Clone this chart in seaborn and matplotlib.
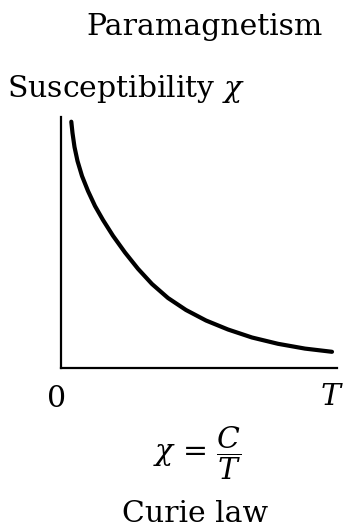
import matplotlib
matplotlib.use("Agg")
import matplotlib.pyplot as plt
import seaborn as sns
import pandas as pd

# curve (T and chi in arbitrary units)
temperature = [10.3, 11.5, 13.5, 16.5, 21, 27, 34, 42, 52, 64,
               77, 91, 107, 125, 145, 167, 191, 217, 244, 271]
susceptibility = [246.3, 235, 221, 207, 192, 177, 162, 148, 132.2, 115.5,
                  99.2, 84, 70, 58, 47.5, 38.5, 30.5, 24.2, 19.4, 16.2]

x_max = 276
y_max = 251

sns.set_theme(style="white")
plt.rcParams["font.family"] = ["DejaVu Serif"]
plt.rcParams["mathtext.fontset"] = "dejavuserif"
plt.rcParams["text.color"] = "black"

df = pd.DataFrame({"T": temperature, "chi": susceptibility})

W, H = 345, 529
fig = plt.figure(figsize=(W / 100, H / 100), dpi=100)
ax = fig.add_axes([61 / W, 1 - 368 / H, x_max / W, y_max / H])

sns.lineplot(data=df, x="T", y="chi", ax=ax, color="black", linewidth=3.0)

ax.set_xlim(0, x_max)
ax.set_ylim(0, y_max)
ax.set_xticks([])
ax.set_yticks([])
ax.set_xlabel("")
ax.set_ylabel("")
sns.despine(ax=ax)
for side in ["left", "bottom"]:
    ax.spines[side].set_color("black")
    ax.spines[side].set_linewidth(1.6)


def put(x, y, s, **kw):
    fig.text(x / W, 1 - y / H, s, **kw)


fs = 21.5
put(205, 35, "Paramagnetism", ha="center", va="baseline", fontsize=fs)
put(7, 97, r"Susceptibility $\mathit{\chi}$", ha="left", va="baseline", fontsize=fs)
put(57, 407, "0", ha="center", va="baseline", fontsize=fs)
put(332, 405, r"$T$", ha="center", va="baseline", fontsize=fs)
put(197, 453, r"$\chi$ = $\dfrac{C}{T}$", ha="center", va="center", fontsize=fs)
put(195, 522, "Curie law", ha="center", va="baseline", fontsize=fs)

fig.savefig("out.png", dpi=100)
